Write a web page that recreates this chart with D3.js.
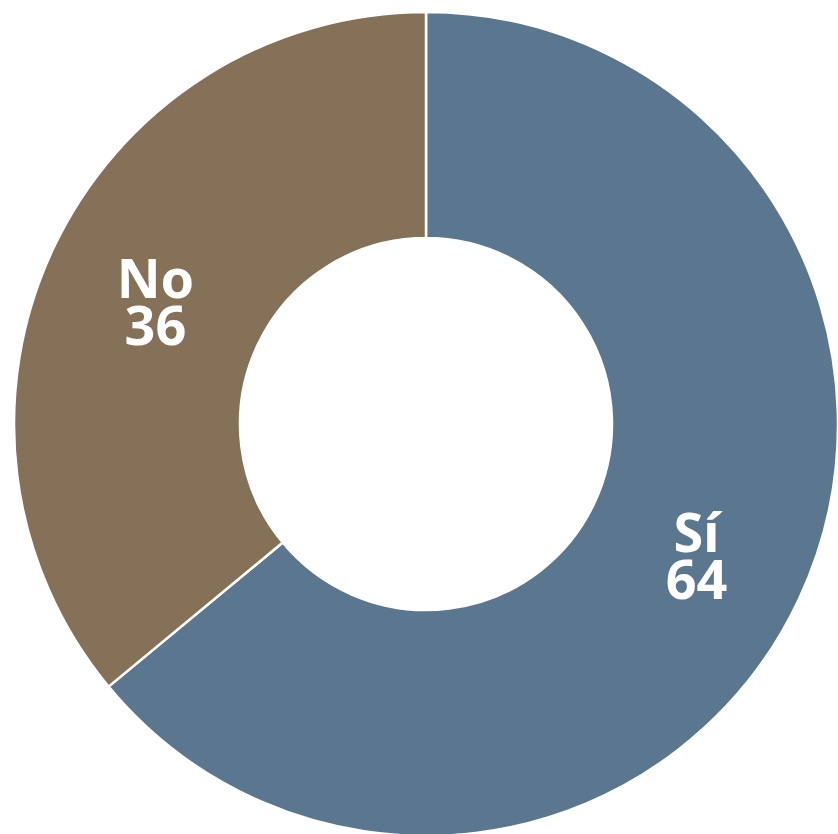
<!DOCTYPE html>
<html>
<head>
<meta charset="utf-8">
<script src="https://cdn.jsdelivr.net/npm/d3@7"></script>
<style>
  body { margin: 0; background: #fff; }
  svg { display: block; }
</style>
</head>
<body>
<div id="chart"></div>
<script>
// data
const labels = ["Sí", "No"];
const values = [64, 36];
const colors = ["#5b778f", "#857058"];

const width = 838;
const height = 834;
const cx = 426;
const cy = 424;
const outerR = 412;
const innerR = 186;

const svg = d3
  .select("#chart")
  .append("svg")
  .attr("width", width)
  .attr("height", height);

const g = svg.append("g").attr("transform", `translate(${cx},${cy})`);

const pie = d3.pie().sort(null).value((d) => d.value);
const arc = d3.arc().innerRadius(innerR).outerRadius(outerR);

const data = labels.map((l, i) => ({ label: l, value: values[i], color: colors[i] }));
const arcs = pie(data);

g.selectAll("path")
  .data(arcs)
  .join("path")
  .attr("d", arc)
  .attr("fill", (d) => d.data.color)
  .attr("stroke", "#fff")
  .attr("stroke-width", 2.5)
  .attr("stroke-linejoin", "round");

// labels at the arc centroid, name over value
const lbl = g
  .selectAll("text")
  .data(arcs)
  .join("text")
  .attr("transform", (d) => {
    const c = arc.centroid(d);
    return `translate(${c[0]},${c[1]})`;
  })
  .attr("text-anchor", "middle")
  .attr("fill", "#fff")
  .style("font-family", "'Noto Sans', sans-serif")
  .style("font-weight", 700)
  .style("font-size", "54px");

lbl.append("tspan").attr("x", 0).attr("y", 1).text((d) => d.data.label);
lbl.append("tspan").attr("x", 0).attr("y", 48).text((d) => d.data.value);
</script>
</body>
</html>
